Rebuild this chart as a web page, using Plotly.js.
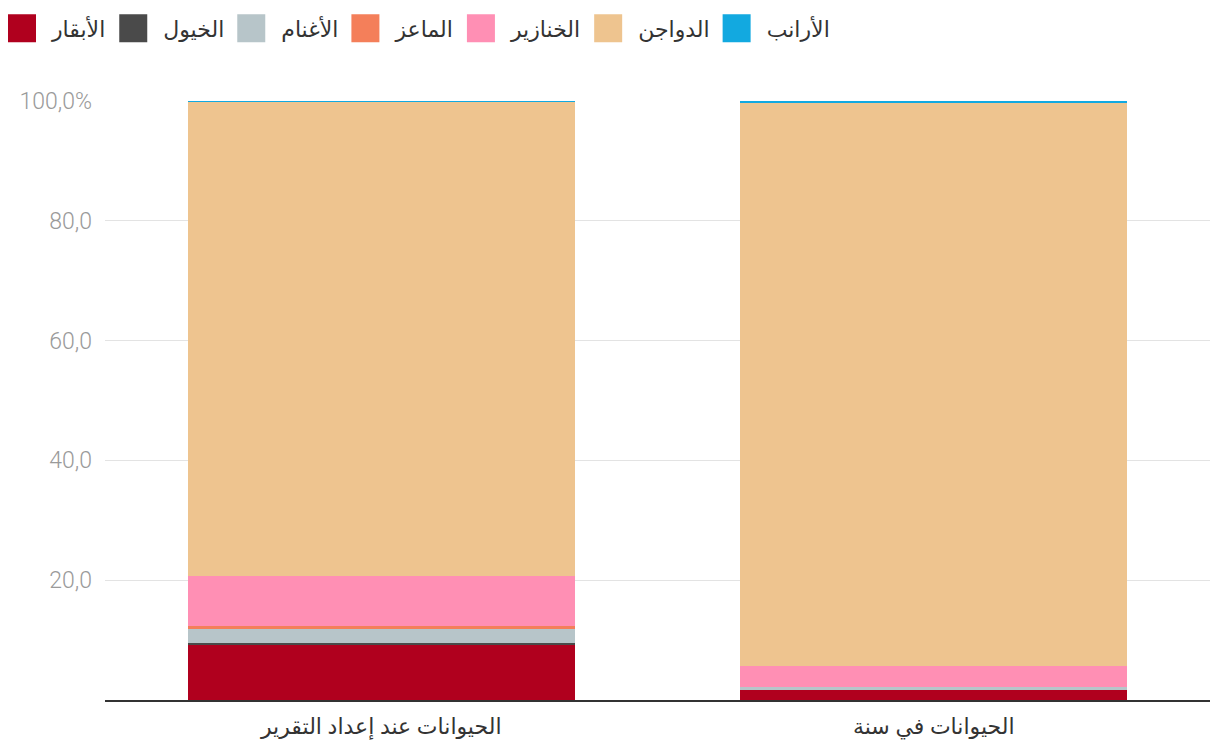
<!DOCTYPE html>
<html><head><meta charset="utf-8">
<script src="https://cdn.plot.ly/plotly-3.0.1.min.js"></script>
<style>body{margin:0;background:#fff}#chart{width:1220px;height:756px}</style>
</head><body><div id="chart"></div>
<script>
const categories = ['الحيوانات عند إعداد التقرير', 'الحيوانات في سنة'];
const seriesNames = ['الأبقار', 'الخيول', 'الأغنام', 'الماعز', 'الخنازير', 'الدواجن', 'الأرانب'];
const cattle = [9.1, 1.6];
const horses = [0.5, 0.05];
const sheep = [2.2, 0.45];
const goats = [0.5, 0.1];
const pigs = [8.35, 3.4];
const poultry = [79.2, 94.05];
const rabbits = [0.15, 0.35];
const colors = ['#b0001e', '#4a4a4a', '#b7c5c9', '#f47f5a', '#ff8fb4', '#eec48f', '#12a9e0'];
const tickVals = [20, 40, 60, 80, 100];
const tickText = ['20,0', '40,0', '60,0', '80,0', '100,0%'];

const values = [cattle, horses, sheep, goats, pigs, poultry, rabbits];
const data = values.map((v, i) => ({
  type: 'bar', x: categories, y: v, name: seriesNames[i],
  marker: {color: colors[i], line: {width: 0}}, hoverinfo: 'y+name'
}));

const layout = {
  width: 1220, height: 756,
  margin: {l: 105, r: 10, t: 101, b: 56},
  barmode: 'stack', bargap: 0.3,
  paper_bgcolor: '#fff', plot_bgcolor: '#fff',
  font: {family: 'Lato, "DejaVu Sans", sans-serif', color: '#333'},
  showlegend: true,
  legend: {orientation: 'h', xref: 'container', yref: 'container', x: 0, y: 0.99, xanchor: 'left', yanchor: 'top',
    font: {size: 22, color: '#333'}, traceorder: 'normal', itemclick: false, itemwidth: 42},
  xaxis: {type: 'category', showgrid: false, showline: true, linecolor: '#333', linewidth: 2,
    ticks: '', ticklabelstandoff: 6, tickfont: {size: 22, color: '#333'}, fixedrange: true},
  yaxis: {range: [0, 100], tickvals: tickVals, ticktext: tickText, showgrid: true, gridcolor: '#e3e3e3', gridwidth: 1,
    zeroline: false, showline: false, ticks: '', ticklabelstandoff: 12,
    tickfont: {size: 23, color: '#9a9a9a', family: 'Roboto', weight: 300}, fixedrange: true}
};

Plotly.newPlot('chart', data, layout, {displayModeBar: false, staticPlot: true}).then(gd => {
  gd.querySelectorAll('.legendpoints path').forEach(p => {
    p.setAttribute('d', 'M10,14H-18V-14H10Z');
  });
});
</script></body></html>
